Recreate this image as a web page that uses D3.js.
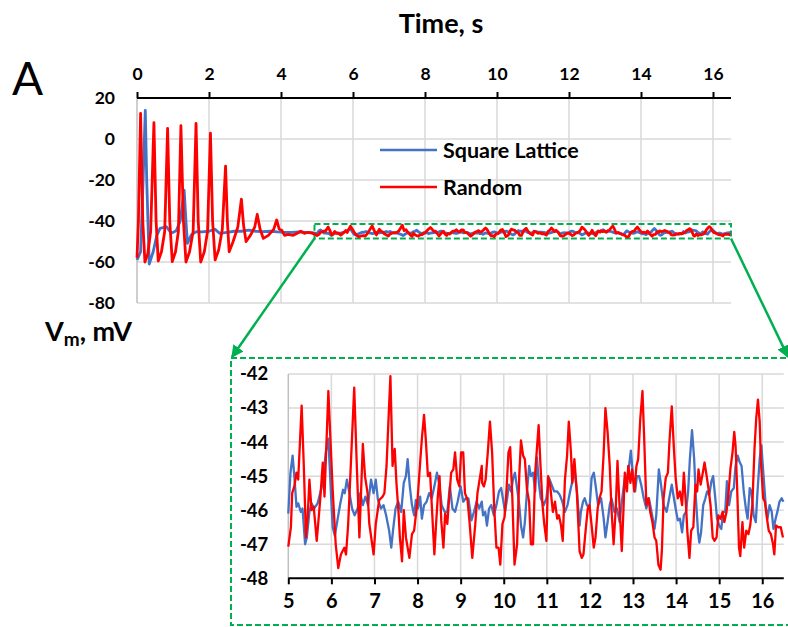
<!DOCTYPE html>
<html>
<head>
<meta charset="utf-8">
<script src="https://cdn.jsdelivr.net/npm/d3@7"></script>
<style>
  html, body { margin: 0; padding: 0; background: #fff; }
  svg { display: block; }
  text { font-family: Lato, "Open Sans", sans-serif; }
</style>
</head>
<body>
<svg id="chart" width="788" height="627"></svg>
<script>
// ---------- data: [time (s), Vm (mV)] ----------
const randomEarly = [
  [0,-58],[0.04,-40],[0.1,12.5],[0.16,-40],[0.22,-60],[0.3,-56],[0.38,-45],[0.47,8],[0.53,-40],
  [0.59,-59.5],[0.68,-55],[0.77,-45],[0.85,5.2],[0.91,-40],[0.98,-59.8],[1.07,-55],[1.15,-45],
  [1.22,6.5],[1.29,-40],[1.36,-60],[1.46,-55],[1.56,-45],[1.64,7.6],[1.7,-40],[1.77,-60],
  [1.87,-55],[1.96,-45],[2.04,2.8],[2.1,-40],[2.17,-59],[2.27,-54],[2.37,-44],[2.46,-13.2],
  [2.51,-40],[2.56,-55],[2.67,-50],[2.8,-43],[2.9,-29.3],[2.96,-42],[3.03,-50],[3.15,-47],
  [3.27,-43],[3.34,-36.8],[3.42,-44],[3.51,-48.5],[3.65,-47],[3.8,-44],[3.88,-39.5],[3.95,-44],
  [4.02,-44.5],[4.1,-47],[4.2,-46.5],[4.34,-47],[4.45,-46],[4.55,-45],[4.65,-46],[4.75,-45.5],
  [4.85,-45.8],[4.95,-46.5]
];
const latticeEarly = [
  [0,-59],[0.1,-55],[0.17,-20],[0.23,14],[0.27,-20],[0.34,-61],[0.45,-55],[0.55,-47],
  [0.64,-43.6],[0.82,-42.8],[0.95,-46],[1.09,-44.8],[1.2,-40],[1.26,-32],[1.31,-25],[1.36,-40],
  [1.4,-50.9],[1.51,-46.8],[1.65,-45.2],[1.8,-45.3],[2.0,-45],[2.16,-44],[2.3,-46],[2.5,-45.5],
  [2.7,-45],[2.9,-45],[3.1,-44.5],[3.3,-45],[3.5,-45.2],[3.7,-45],[3.9,-45.3],[4.1,-45.5],
  [4.3,-45.5],[4.5,-45.3],[4.7,-45.6],[4.9,-45.8]
];
const randomLate = [
  [5.0,-47.07],[5.06,-46.5],[5.09,-45.5],[5.14,-45.3],[5.19,-44.9],[5.23,-45.1],[5.31,-42.93],
  [5.36,-44.7],[5.41,-46.8],[5.45,-46.2],[5.49,-45.1],[5.54,-46.0],[5.59,-45.9],[5.66,-46.9],
  [5.74,-45.7],[5.80,-44.6],[5.84,-45.6],[5.93,-42.5],[5.97,-43.7],[6.03,-45.4],[6.10,-47.0],
  [6.16,-47.7],[6.22,-47.3],[6.30,-47.1],[6.34,-47.3],[6.39,-46.4],[6.45,-44.7],[6.53,-42.4],
  [6.59,-44.7],[6.65,-46.8],[6.73,-44.05],[6.78,-45.0],[6.84,-45.5],[6.88,-46.4],[6.98,-47.3],
  [7.03,-46.4],[7.11,-45.7],[7.19,-45.6],[7.23,-45.5],[7.28,-44.7],[7.33,-43.2],[7.37,-42.06],
  [7.42,-44.7],[7.47,-44.2],[7.51,-45.2],[7.56,-46.1],[7.59,-46.8],[7.64,-47.5],[7.68,-46.0],
  [7.73,-46.8],[7.81,-47.4],[7.87,-46.7],[7.92,-46.6],[8.0,-45.7],[8.06,-44.6],[8.10,-43.9],
  [8.15,-43.2],[8.19,-43.9],[8.24,-45.0],[8.29,-44.9],[8.33,-45.85],[8.39,-47.3],[8.43,-46.4],
  [8.47,-45.6],[8.51,-45.0],[8.55,-46.3],[8.60,-47.1],[8.64,-46.1],[8.69,-46.4],[8.73,-45.7],
  [8.78,-44.9],[8.83,-44.8],[8.87,-44.3],[8.92,-45.1],[8.97,-45.3],[9.01,-44.3],[9.06,-44.3],
  [9.10,-45.5],[9.16,-45.7],[9.21,-46.4],[9.27,-47.4],[9.34,-46.4],[9.39,-45.5],[9.44,-45.1],
  [9.49,-44.7],[9.50,-45.2],[9.54,-45.3],[9.58,-45.1],[9.63,-44.3],[9.68,-43.4],[9.73,-44.3],
  [9.78,-45.95],[9.83,-47.1],[9.88,-47.1],[9.92,-47.6],[9.97,-46.4],[10.02,-46.2],[10.06,-45.5],
  [10.11,-44.3],[10.15,-44.15],[10.20,-45.65],[10.25,-47.6],[10.31,-47.0],[10.36,-45.0],
  [10.40,-43.95],[10.45,-44.4],[10.49,-44.5],[10.54,-45.4],[10.59,-45.75],[10.63,-47.0],
  [10.68,-47.0],[10.73,-44.9],[10.77,-44.2],[10.81,-43.5],[10.85,-44.6],[10.90,-45.85],
  [10.94,-46.4],[10.99,-46.9],[11.03,-45.0],[11.08,-45.3],[11.14,-46.05],[11.19,-45.75],
  [11.24,-46.25],[11.28,-46.15],[11.33,-46.45],[11.37,-46.9],[11.42,-45.1],[11.47,-44.4],
  [11.51,-43.4],[11.56,-44.3],[11.59,-45.2],[11.64,-44.5],[11.70,-45.55],[11.76,-47.2],
  [11.81,-47.4],[11.85,-47.3],[11.90,-46.6],[11.95,-45.95],[11.99,-45.85],[12.04,-46.45],
  [12.09,-47.1],[12.13,-46.8],[12.18,-45.95],[12.22,-45.65],[12.27,-45.45],[12.32,-44.3],
  [12.36,-43.0],[12.41,-43.7],[12.46,-44.7],[12.50,-45.95],[12.55,-47.0],[12.60,-45.95],
  [12.64,-44.55],[12.69,-45.95],[12.74,-47.2],[12.78,-45.95],[12.81,-44.9],[12.86,-45.45],
  [12.89,-44.7],[12.94,-45.2],[12.98,-44.8],[13.03,-45.45],[13.08,-44.7],[13.12,-44.5],
  [13.17,-43.3],[13.22,-42.5],[13.26,-43.9],[13.31,-45.85],[13.36,-45.65],[13.40,-46.05],
  [13.45,-46.35],[13.50,-46.8],[13.54,-46.9],[13.59,-47.6],[13.64,-47.75],[13.67,-47.2],
  [13.71,-45.65],[13.76,-45.05],[13.81,-44.9],[13.85,-43.9],[13.90,-42.95],[13.95,-44.2],
  [13.99,-45.05],[14.04,-45.65],[14.09,-45.45],[14.14,-45.85],[14.18,-44.9],[14.23,-45.85],
  [14.26,-46.6],[14.31,-47.4],[14.35,-46.6],[14.40,-46.5],[14.45,-45.25],[14.49,-45.45],
  [14.52,-44.8],[14.57,-45.25],[14.62,-44.9],[14.66,-44.6],[14.71,-45.0],[14.75,-45.35],
  [14.80,-45.85],[14.85,-46.8],[14.89,-46.9],[14.94,-46.8],[14.98,-46.15],[15.03,-46.25],
  [15.08,-46.05],[15.12,-46.35],[15.17,-46.05],[15.22,-45.45],[15.26,-44.8],[15.31,-44.3],
  [15.35,-43.7],[15.38,-44.1],[15.42,-45.45],[15.46,-47.1],[15.49,-47.35],[15.54,-46.35],
  [15.58,-47.1],[15.63,-46.6],[15.68,-46.7],[15.72,-46.45],[15.77,-45.85],[15.82,-44.2],
  [15.86,-43.3],[15.90,-42.75],[15.94,-43.4],[15.97,-44.6],[16.02,-45.65],[16.06,-45.75],
  [16.11,-46.25],[16.15,-46.6],[16.20,-46.7],[16.25,-47.0],[16.28,-47.3],[16.32,-46.45],
  [16.37,-46.5],[16.43,-46.5],[16.48,-46.8]
];
const latticeLate = [
  [5.0,-46.1],[5.05,-44.9],[5.10,-44.4],[5.14,-45.0],[5.19,-45.9],[5.23,-45.8],[5.29,-46.05],
  [5.33,-45.95],[5.39,-47.0],[5.43,-46.8],[5.49,-46.05],[5.54,-45.8],[5.60,-45.95],[5.68,-45.8],
  [5.74,-45.5],[5.80,-45.2],[5.87,-44.3],[5.93,-43.9],[5.99,-45.5],[6.03,-46.5],[6.08,-46.75],
  [6.14,-46.3],[6.20,-45.85],[6.27,-45.4],[6.31,-45.5],[6.36,-45.1],[6.42,-45.5],[6.48,-45.95],
  [6.54,-46.15],[6.61,-45.95],[6.67,-45.5],[6.73,-45.85],[6.79,-45.6],[6.85,-45.85],
  [6.92,-45.1],[6.98,-45.5],[7.03,-45.1],[7.08,-45.7],[7.15,-45.95],[7.21,-45.85],[7.27,-46.15],
  [7.34,-46.6],[7.39,-47.1],[7.43,-46.6],[7.49,-45.95],[7.55,-45.75],[7.62,-46.05],[7.68,-45.2],
  [7.73,-45.0],[7.77,-44.5],[7.82,-45.3],[7.87,-45.85],[7.92,-46.15],[7.96,-45.7],[8.01,-45.95],
  [8.06,-45.6],[8.10,-46.25],[8.15,-45.85],[8.21,-45.75],[8.27,-45.5],[8.33,-45.65],[8.39,-45.3],
  [8.45,-44.9],[8.50,-45.2],[8.56,-45.85],[8.63,-46.05],[8.69,-46.05],[8.75,-45.3],[8.81,-45.95],
  [8.87,-46.05],[8.93,-45.75],[9.0,-45.3],[9.06,-45.75],[9.12,-45.65],[9.18,-45.65],[9.25,-46.3],
  [9.31,-46.05],[9.37,-45.75],[9.43,-45.95],[9.49,-45.75],[9.52,-46.15],[9.57,-46.05],
  [9.61,-46.45],[9.66,-45.95],[9.71,-45.85],[9.77,-46.15],[9.83,-45.85],[9.89,-45.45],
  [9.94,-45.35],[9.98,-45.65],[10.03,-46.05],[10.08,-45.65],[10.12,-45.25],[10.17,-45.45],
  [10.22,-45.05],[10.26,-44.9],[10.31,-45.35],[10.36,-45.85],[10.40,-46.45],[10.45,-46.8],
  [10.49,-46.35],[10.54,-45.45],[10.59,-44.7],[10.63,-45.0],[10.68,-44.9],[10.73,-45.45],
  [10.77,-44.45],[10.82,-45.25],[10.86,-45.65],[10.93,-45.85],[10.99,-45.65],[11.05,-45.05],
  [11.11,-45.25],[11.17,-45.45],[11.24,-45.45],[11.30,-45.55],[11.36,-45.75],[11.42,-46.05],
  [11.48,-45.85],[11.54,-45.45],[11.61,-45.05],[11.65,-44.9],[11.70,-45.45],[11.76,-46.45],
  [11.79,-46.05],[11.84,-45.75],[11.88,-45.65],[11.93,-45.85],[11.99,-45.95],[12.04,-45.05],
  [12.09,-44.9],[12.13,-45.25],[12.19,-45.85],[12.26,-45.65],[12.32,-46.25],[12.36,-46.8],
  [12.41,-46.35],[12.46,-45.85],[12.50,-45.65],[12.57,-46.05],[12.63,-45.95],[12.69,-46.35],
  [12.75,-45.65],[12.81,-45.05],[12.86,-45.05],[12.91,-44.7],[12.95,-44.25],[13.0,-45.0],
  [13.05,-45.45],[13.09,-45.0],[13.14,-45.0],[13.19,-45.25],[13.25,-45.65],[13.31,-45.95],
  [13.37,-45.65],[13.43,-46.05],[13.50,-46.55],[13.54,-46.15],[13.60,-44.8],[13.65,-45.25],
  [13.71,-45.85],[13.78,-46.05],[13.84,-45.65],[13.90,-45.25],[13.95,-45.65],[13.99,-45.95],
  [14.04,-46.3],[14.09,-46.25],[14.14,-46.65],[14.18,-46.15],[14.23,-46.05],[14.28,-45.45],
  [14.32,-44.5],[14.37,-43.65],[14.42,-44.5],[14.46,-45.65],[14.51,-46.65],[14.54,-46.95],
  [14.58,-46.65],[14.63,-45.85],[14.68,-45.65],[14.72,-45.45],[14.77,-45.55],[14.82,-45.15],
  [14.86,-45.0],[14.91,-45.65],[14.95,-46.25],[15.0,-46.45],[15.05,-46.55],[15.09,-46.05],
  [15.14,-46.05],[15.18,-45.15],[15.23,-45.85],[15.28,-45.45],[15.34,-45.35],[15.38,-44.7],
  [15.43,-44.4],[15.48,-44.6],[15.52,-44.7],[15.57,-45.45],[15.62,-45.95],[15.66,-46.25],
  [15.71,-45.35],[15.75,-45.45],[15.80,-46.15],[15.85,-46.35],[15.89,-45.45],[15.94,-44.5],
  [15.98,-44.1],[16.03,-45.0],[16.08,-45.85],[16.12,-46.25],[16.17,-45.85],[16.22,-46.05],
  [16.26,-46.55],[16.31,-46.25],[16.35,-46.05],[16.40,-45.75],[16.45,-45.65],[16.49,-45.75]
];
const seriesNames = ["Square Lattice", "Random"];
const seriesColors = ["#4472C4", "#FF0000"];
const mainXTicks = [0, 2, 4, 6, 8, 10, 12, 14, 16];
const mainYTicks = [20, 0, -20, -40, -60, -80];
const insetXTicks = [5, 6, 7, 8, 9, 10, 11, 12, 13, 14, 15, 16];
const insetYTicks = [-42, -43, -44, -45, -46, -47, -48];
const zoomWindow = { t0: 4.93, t1: 16.5, v0: -48.5, v1: -41.5 };

// ---------- drawing ----------
const svg = d3.select("#chart");
const grid = "#D9D9D9", green = "#00B050";
const fmt = d => String(d);   // plain hyphen-minus like the original

const xM = d3.scaleLinear().domain([0, 16.5]).range([137, 731]);
const yM = d3.scaleLinear().domain([-80, 20]).range([303, 98]);
const xI = d3.scaleLinear().domain([5, 16.5]).range([288.3, 783.8]);
const yI = d3.scaleLinear().domain([-48, -42]).range([578.3, 374]);

// main grid
const gM = svg.append("g");
gM.selectAll(".vg").data(mainXTicks.filter(d => d > 0)).join("line")
  .attr("x1", d => xM(d)).attr("x2", d => xM(d)).attr("y1", yM(20)).attr("y2", yM(-80))
  .attr("stroke", grid).attr("stroke-width", 1.5);
gM.selectAll(".hg").data(mainYTicks.filter(d => d < 20)).join("line")
  .attr("x1", xM(0)).attr("x2", xM(16.5)).attr("y1", d => yM(d)).attr("y2", d => yM(d))
  .attr("stroke", grid).attr("stroke-width", 1.5);
gM.append("line").attr("x1", xM(0)).attr("x2", xM(0)).attr("y1", yM(20)).attr("y2", yM(-80))
  .attr("stroke", "#BFBFBF").attr("stroke-width", 1.5);

// main top axis
const axTop = d3.axisTop(xM).tickValues(mainXTicks).tickSize(6).tickPadding(12).tickFormat(fmt);
const gTop = svg.append("g").attr("transform", `translate(0,${yM(20)})`).call(axTop);
gTop.select(".domain").attr("stroke", "#000").attr("stroke-width", 2).attr("d", `M${xM(0)},0H${xM(16.5)}`);
gTop.selectAll(".tick line").attr("stroke", "#000").attr("stroke-width", 2);
gTop.selectAll(".tick text").attr("font-size", 17.5).attr("font-weight", "bold").attr("fill", "#000")
  .attr("font-family", "Lato, sans-serif");

// main y labels
const axL = d3.axisLeft(yM).tickValues(mainYTicks).tickSize(0).tickPadding(22).tickFormat(fmt);
const gL = svg.append("g").attr("transform", `translate(${xM(0)},0)`).call(axL);
gL.select(".domain").remove();
gL.selectAll(".tick text").attr("font-size", 17.5).attr("font-weight", "bold").attr("fill", "#000")
  .attr("font-family", "Lato, sans-serif");

// zoom window rectangle in main
svg.append("rect")
  .attr("x", xM(zoomWindow.t0)).attr("y", yM(zoomWindow.v1))
  .attr("width", xM(zoomWindow.t1) - xM(zoomWindow.t0)).attr("height", yM(zoomWindow.v0) - yM(zoomWindow.v1))
  .attr("fill", "none").attr("stroke", green).attr("stroke-width", 2).attr("stroke-dasharray", "6,3");

// main lines
const lineM = d3.line().x(d => xM(d[0])).y(d => yM(d[1]));
const latticeAll = latticeEarly.concat(latticeLate);
const randomAll = randomEarly.concat(randomLate);
svg.append("path").datum(latticeAll).attr("d", lineM).attr("fill", "none")
  .attr("stroke", seriesColors[0]).attr("stroke-width", 2.8).attr("stroke-linejoin", "round");
svg.append("path").datum(randomAll).attr("d", lineM).attr("fill", "none")
  .attr("stroke", seriesColors[1]).attr("stroke-width", 2.8).attr("stroke-linejoin", "round");

// legend
const leg = svg.append("g");
seriesNames.forEach((name, i) => {
  const y = 150 + i * 37;
  leg.append("line").attr("x1", 380).attr("x2", 437).attr("y1", y).attr("y2", y)
    .attr("stroke", seriesColors[i]).attr("stroke-width", 2.5);
  leg.append("text").attr("x", 443).attr("y", y).attr("dy", "0.36em")
    .attr("font-size", 21.5).attr("font-weight", "bold").attr("fill", "#000").text(name);
});

// titles
svg.append("text").attr("x", 441).attr("y", 33).attr("text-anchor", "middle")
  .attr("font-size", 27).attr("font-weight", "bold").text("Time, s");
svg.append("text").attr("x", 12).attr("y", 95).attr("font-size", 46).text("A");
const vt = svg.append("text").attr("x", 45).attr("y", 341).attr("font-size", 27).attr("font-weight", "bold");
vt.append("tspan").text("V");
vt.append("tspan").attr("font-size", 19).attr("dy", 5).text("m");
vt.append("tspan").attr("dy", -5).text(", mV");

// arrows
const defs = svg.append("defs");
defs.append("marker").attr("id", "ah").attr("viewBox", "0 0 10 10").attr("refX", 9).attr("refY", 5)
  .attr("markerWidth", 5).attr("markerHeight", 5).attr("markerUnits", "strokeWidth").attr("orient", "auto")
  .append("path").attr("d", "M0,0L10,5L0,10z").attr("fill", green);
svg.append("line").attr("x1", xM(zoomWindow.t0)).attr("y1", yM(zoomWindow.v0)).attr("x2", 232).attr("y2", 357)
  .attr("stroke", green).attr("stroke-width", 2.5).attr("marker-end", "url(#ah)");
svg.append("line").attr("x1", xM(zoomWindow.t1)).attr("y1", yM(zoomWindow.v0)).attr("x2", 788).attr("y2", 357)
  .attr("stroke", green).attr("stroke-width", 2.5).attr("marker-end", "url(#ah)");

// inset box
svg.append("rect").attr("x", 231).attr("y", 358).attr("width", 570).attr("height", 267)
  .attr("fill", "none").attr("stroke", green).attr("stroke-width", 2).attr("stroke-dasharray", "6,3");

// inset grid
const gI = svg.append("g");
gI.selectAll("line.v").data(insetXTicks.filter(d => d > 5)).join("line")
  .attr("x1", d => xI(d)).attr("x2", d => xI(d)).attr("y1", yI(-42)).attr("y2", yI(-48))
  .attr("stroke", grid).attr("stroke-width", 1.5);
gI.selectAll("line.h").data(insetYTicks.filter(d => d > -48)).join("line")
  .attr("x1", xI(5)).attr("x2", xI(16.5)).attr("y1", d => yI(d)).attr("y2", d => yI(d))
  .attr("stroke", grid).attr("stroke-width", 1.5);
gI.append("line").attr("x1", xI(5)).attr("x2", xI(5)).attr("y1", yI(-42)).attr("y2", yI(-48))
  .attr("stroke", "#BFBFBF").attr("stroke-width", 1.5);

// inset lines
const lineI = d3.line().x(d => xI(d[0])).y(d => yI(d[1]));
svg.append("path").datum(latticeLate).attr("d", lineI).attr("fill", "none")
  .attr("stroke", seriesColors[0]).attr("stroke-width", 2.3).attr("stroke-linejoin", "round");
svg.append("path").datum(randomLate).attr("d", lineI).attr("fill", "none")
  .attr("stroke", seriesColors[1]).attr("stroke-width", 2.3).attr("stroke-linejoin", "round");

// inset axes
const axB = d3.axisBottom(xI).tickValues(insetXTicks).tickSize(6).tickPadding(10).tickFormat(fmt);
const gB = svg.append("g").attr("transform", `translate(0,${yI(-48)})`).call(axB);
gB.select(".domain").attr("stroke", "#000").attr("stroke-width", 2).attr("d", `M${xI(5)},0H${xI(16.5)}`);
gB.selectAll(".tick line").attr("stroke", "#000").attr("stroke-width", 2);
gB.selectAll(".tick text").attr("font-size", 20).attr("font-weight", "bold").attr("fill", "#000")
  .attr("font-family", "Lato, sans-serif");

const axIL = d3.axisLeft(yI).tickValues(insetYTicks).tickSize(0).tickPadding(20).tickFormat(fmt);
const gIL = svg.append("g").attr("transform", `translate(${xI(5)},0)`).call(axIL);
gIL.select(".domain").remove();
gIL.selectAll(".tick text").attr("font-size", 18.5).attr("font-weight", "bold").attr("fill", "#000")
  .attr("font-family", "Lato, sans-serif");
</script>
</body>
</html>
